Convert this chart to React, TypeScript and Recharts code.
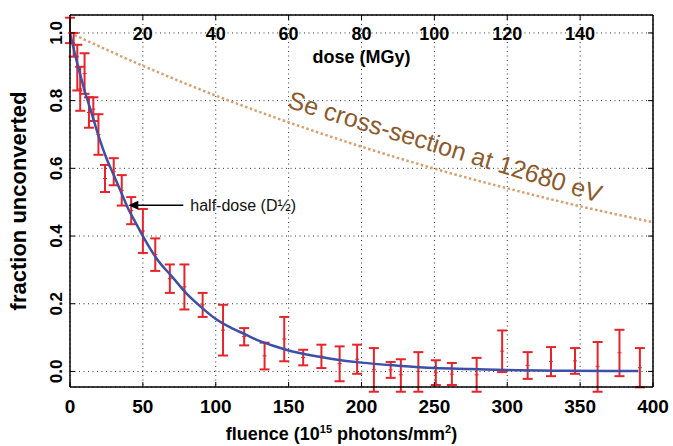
import {
  CartesianGrid,
  ComposedChart,
  ErrorBar,
  Label,
  Line,
  ReferenceDot,
  Scatter,
  XAxis,
  YAxis,
} from "recharts";

// fitted decay curve (blue)
const curveFluence = [0, 5, 10, 15, 20, 25, 30, 35, 40, 45, 50, 60, 70, 80, 90, 100, 110, 120, 130, 140, 150, 165, 180, 200, 225, 250, 275, 300, 340, 390];
const curveValue = [1.0, 0.91, 0.83, 0.76, 0.69, 0.63, 0.58, 0.53, 0.48, 0.44, 0.4, 0.33, 0.28, 0.23, 0.19, 0.155, 0.13, 0.11, 0.09, 0.075, 0.062, 0.048, 0.037, 0.026, 0.017, 0.01, 0.007, 0.004, 0.002, 0.001];

// Se cross-section reference (dotted)
const seFluence = [0, 50, 100, 150, 200, 250, 300, 350, 400];
const seValue = [1.0, 0.903, 0.815, 0.736, 0.664, 0.599, 0.541, 0.488, 0.441];

// measured points with error bars
const barFluence = [0, 2.5, 5, 7, 10, 13, 16, 19.5, 24, 30, 35.5, 42, 50, 58.5, 68.5, 78.5, 91, 105, 119.5, 133.5, 147, 160, 172.5, 185, 197, 208.5, 220, 227, 239, 251, 262, 279, 296.5, 314, 330, 346.5, 362, 377, 391];
const barValue = [1.0, 0.965, 0.9, 0.835, 0.88, 0.765, 0.775, 0.7, 0.57, 0.59, 0.535, 0.475, 0.415, 0.345, 0.274, 0.25, 0.197, 0.122, 0.103, 0.046, 0.096, 0.041, 0.045, 0.023, 0.036, 0.005, 0.005, -0.01, 0.0, -0.004, -0.008, -0.01, 0.06, 0.018, 0.029, 0.031, 0.015, 0.055, 0.011];
const barLow = [0.97, 0.93, 0.83, 0.77, 0.82, 0.72, 0.74, 0.64, 0.53, 0.55, 0.49, 0.435, 0.35, 0.297, 0.232, 0.183, 0.161, 0.047, 0.077, 0.006, 0.03, 0.018, 0.01, -0.029, -0.007, -0.06, -0.019, -0.06, -0.06, -0.04, -0.04, -0.06, -0.002, -0.022, -0.014, -0.007, -0.06, -0.014, -0.047];
const barHigh = [1.045, 1.0, 0.965, 0.9, 0.94, 0.81, 0.81, 0.76, 0.61, 0.63, 0.58, 0.515, 0.48, 0.393, 0.316, 0.316, 0.232, 0.197, 0.128, 0.085, 0.161, 0.064, 0.079, 0.074, 0.079, 0.069, 0.028, 0.036, 0.057, 0.033, 0.025, 0.04, 0.121, 0.057, 0.072, 0.069, 0.087, 0.123, 0.069];

const fluenceTicks = [0, 50, 100, 150, 200, 250, 300, 350, 400];
const doseRange = [0, 160];
const doseTicks = [20, 40, 60, 80, 100, 120, 140];
const fractionTicks = [0, 0.2, 0.4, 0.6, 0.8, 1.0];

const curveData = curveFluence.map((f, i) => ({ f, v: curveValue[i] }));
const seData = seFluence.map((f, i) => ({ f, v: seValue[i] }));
const doseData = doseRange.map((d) => ({ d, v: 1.0 }));
const barData = barFluence.map((f, i) => ({
  f,
  v: barValue[i],
  err: [barValue[i] - barLow[i], barHigh[i] - barValue[i]],
}));

const FONT = "'Liberation Sans', Arial, sans-serif";
const RED = "#e5252b";
const BLUE = "#3d4fa6";

const BottomTick = (p: any) => (
  <g>
    <line x1={p.x} x2={p.x} y1={p.y} y2={p.y - 5} stroke="#000" />
    <text x={p.x} y={p.y + 26} textAnchor="middle" fontFamily={FONT} fontWeight="bold" fontSize={19} fill="#000">
      {p.payload.value}
    </text>
  </g>
);

const TopTick = (p: any) => (
  <g>
    <line x1={p.x} x2={p.x} y1={p.y} y2={p.y + 5} stroke="#000" />
    <text x={p.x} y={p.y + 25} textAnchor="middle" fontFamily={FONT} fontWeight="bold" fontSize={18} fill="#000">
      {p.payload.value}
    </text>
  </g>
);

const LeftTick = (p: any) => (
  <g>
    <line x1={p.x} x2={p.x + 5} y1={p.y} y2={p.y} stroke="#000" />
    <text
      x={p.x - 8}
      y={p.y}
      transform={`rotate(-90 ${p.x - 8} ${p.y})`}
      textAnchor="middle"
      fontFamily={FONT}
      fontWeight="bold"
      fontSize={17}
      fill="#000"
    >
      {Number(p.payload.value).toFixed(1)}
    </text>
  </g>
);

const RightTick = (p: any) => <line x1={p.x} x2={p.x - 5} y1={p.y} y2={p.y} stroke="#000" />;

const CenterMark = (p: any) => (
  <line x1={p.cx - 2} x2={p.cx + 2} y1={p.cy} y2={p.cy} stroke={RED} strokeWidth={1} />
);

const HalfDose = (p: any) => (
  <g>
    <line x1={p.cx + 8} x2={p.cx + 55} y1={p.cy} y2={p.cy} stroke="#000" strokeWidth={1.3} />
    <path d={`M${p.cx},${p.cy} L${p.cx + 10},${p.cy - 4.5} L${p.cx + 10},${p.cy + 4.5} Z`} fill="#000" />
    <text x={p.cx + 62} y={p.cy + 6} fontFamily={FONT} fontSize={16} fill="#111">
      half-dose (D½)
    </text>
  </g>
);

const SeLabel = (p: any) => (
  <text
    x={p.cx}
    y={p.cy}
    transform={`rotate(17 ${p.cx} ${p.cy})`}
    textAnchor="middle"
    dominantBaseline="middle"
    fontFamily={FONT}
    fontSize={25}
    fill="#8c5a2c"
  >
    Se cross-section at 12680 eV
  </text>
);

export default function App() {
  return (
    <div style={{ position: "absolute", left: 0, top: 0, width: 673, height: 446, background: "#fff" }}>
      <ComposedChart width={673} height={446} margin={{ top: 0, right: 0, bottom: 0, left: 0 }}>
        <CartesianGrid stroke="#333" strokeDasharray="1 3.5" />
        <XAxis
          dataKey="f"
          type="number"
          domain={[0, 400]}
          ticks={fluenceTicks}
          interval={0}
          height={59}
          tickSize={0}
          tickMargin={0}
          tickLine={false}
          axisLine={{ stroke: "#000", strokeWidth: 1.5 }}
          tick={BottomTick}
        >
          <Label
            content={({ viewBox }: any) => (
              <text
                x={viewBox.x + viewBox.width / 2 - 20}
                y={viewBox.y + 53}
                textAnchor="middle"
                fontFamily={FONT}
                fontWeight="bold"
                fontSize={18}
                fill="#000"
              >
                fluence (10<tspan fontSize={11} dy={-7}>15</tspan>
                <tspan dy={7}> photons/mm</tspan>
                <tspan fontSize={11} dy={-7}>2</tspan>
                <tspan dy={7}>)</tspan>
              </text>
            )}
          />
        </XAxis>
        <XAxis
          xAxisId="dose"
          dataKey="d"
          orientation="top"
          type="number"
          domain={[0, 160]}
          allowDataOverflow
          ticks={doseTicks}
          interval={0}
          height={15}
          tickSize={0}
          tickMargin={0}
          tickLine={false}
          axisLine={{ stroke: "#000", strokeWidth: 1.5 }}
          tick={TopTick}
        >
          <Label
            content={({ viewBox }: any) => (
              <text
                x={viewBox.x + viewBox.width / 2}
                y={viewBox.y + viewBox.height + 48}
                textAnchor="middle"
                fontFamily={FONT}
                fontWeight="bold"
                fontSize={18}
                fill="#000"
              >
                dose (MGy)
              </text>
            )}
          />
        </XAxis>
        <YAxis
          type="number"
          domain={[-0.046, 1.053]}
          allowDataOverflow
          ticks={fractionTicks}
          interval={0}
          width={70}
          tickSize={0}
          tickMargin={0}
          tickLine={false}
          axisLine={{ stroke: "#000", strokeWidth: 1.5 }}
          tick={LeftTick}
        >
          <Label
            content={({ viewBox }: any) => (
              <text
                x={26}
                y={viewBox.y + viewBox.height / 2}
                transform={`rotate(-90 26 ${viewBox.y + viewBox.height / 2})`}
                textAnchor="middle"
                fontFamily={FONT}
                fontWeight="bold"
                fontSize={22}
                fill="#000"
              >
                fraction unconverted
              </text>
            )}
          />
        </YAxis>
        <YAxis
          yAxisId="r"
          orientation="right"
          type="number"
          domain={[-0.046, 1.053]}
          allowDataOverflow
          ticks={fractionTicks}
          interval={0}
          width={20}
          tickSize={0}
          tickMargin={0}
          tickLine={false}
          axisLine={{ stroke: "#000", strokeWidth: 1.5 }}
          tick={RightTick}
        />
        {/* invisible series so the dose axis is laid out */}
        <Line
          xAxisId="dose"
          data={doseData}
          dataKey="v"
          stroke="none"
          dot={false}
          legendType="none"
          isAnimationActive={false}
        />
        <Line
          data={seData}
          dataKey="v"
          type="monotone"
          stroke="#d8a06e"
          strokeWidth={2.5}
          strokeDasharray="2.5 2.5"
          dot={false}
          isAnimationActive={false}
        />
        <Scatter data={barData} dataKey="v" shape={CenterMark} isAnimationActive={false}>
          <ErrorBar dataKey="err" direction="y" width={5} stroke={RED} strokeWidth={2} />
        </Scatter>
        <Line
          data={curveData}
          dataKey="v"
          type="monotone"
          stroke={BLUE}
          strokeWidth={2.5}
          dot={false}
          isAnimationActive={false}
        />
        <ReferenceDot x={40} y={0.491} r={0} shape={HalfDose} ifOverflow="visible" />
        <ReferenceDot x={257} y={0.658} r={0} shape={SeLabel} ifOverflow="visible" />
      </ComposedChart>
    </div>
  );
}
